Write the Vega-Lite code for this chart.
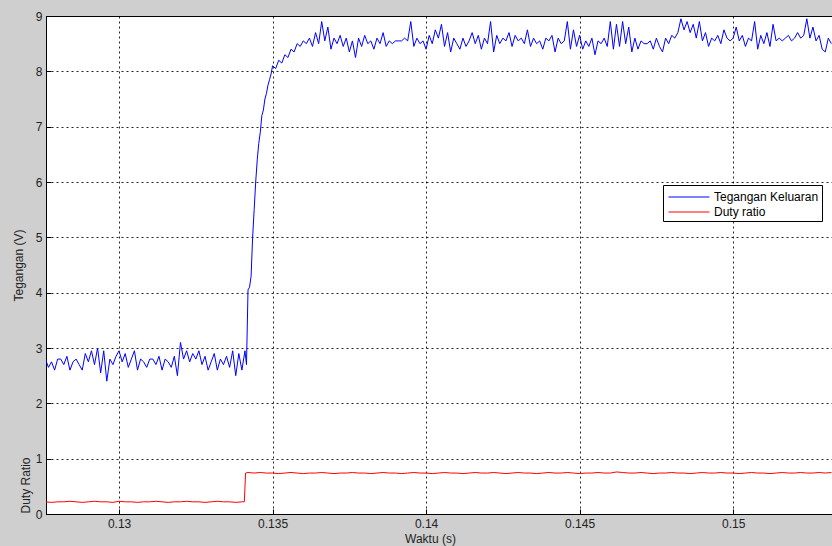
{
  "$schema": "https://vega.github.io/schema/vega-lite/v6.json",
  "width": 786,
  "height": 498,
  "autosize": {"type": "none"},
  "padding": {"left": 46, "top": 16, "right": 0, "bottom": 32},
  "background": "#cfcfcf",
  "config": {
    "view": {"fill": "white", "stroke": "#000", "strokeWidth": 1},
    "font": "Liberation Sans",
    "axis": {
      "grid": true,
      "gridColor": "#000",
      "gridDash": [2, 3],
      "gridOpacity": 0.85,
      "gridWidth": 1,
      "domainColor": "#000",
      "tickColor": "#000",
      "tickSize": -5,
      "labelPadding": 9,
      "labelFont": "Liberation Sans",
      "labelFontSize": 12,
      "labelColor": "#222",
      "titleFont": "Liberation Sans",
      "titleFontSize": 12,
      "titleFontWeight": "normal",
      "titleColor": "#222"
    }
  },
  "datasets": {
    "tegangan": [
      {"t": 0.1276, "v": 2.80}, {"t": 0.1277, "v": 2.65}, {"t": 0.1278, "v": 2.75}, {"t": 0.1279, "v": 2.60},
      {"t": 0.1280, "v": 2.80}, {"t": 0.1281, "v": 2.80}, {"t": 0.1282, "v": 2.70}, {"t": 0.1283, "v": 2.85},
      {"t": 0.1284, "v": 2.60}, {"t": 0.1285, "v": 2.75}, {"t": 0.1286, "v": 2.80}, {"t": 0.1287, "v": 2.70},
      {"t": 0.1288, "v": 2.60}, {"t": 0.1289, "v": 2.90}, {"t": 0.1290, "v": 2.75}, {"t": 0.1291, "v": 2.95},
      {"t": 0.1292, "v": 2.70}, {"t": 0.1293, "v": 3.00}, {"t": 0.1294, "v": 2.55}, {"t": 0.1295, "v": 2.95},
      {"t": 0.1296, "v": 2.40}, {"t": 0.1297, "v": 2.80}, {"t": 0.1298, "v": 2.70}, {"t": 0.1299, "v": 2.85},
      {"t": 0.1300, "v": 2.95}, {"t": 0.1301, "v": 2.75}, {"t": 0.1302, "v": 2.90}, {"t": 0.1303, "v": 2.65},
      {"t": 0.1304, "v": 2.80}, {"t": 0.1305, "v": 2.95}, {"t": 0.1306, "v": 2.60}, {"t": 0.1307, "v": 2.80},
      {"t": 0.1308, "v": 2.75}, {"t": 0.1309, "v": 2.65}, {"t": 0.1310, "v": 2.80}, {"t": 0.1311, "v": 2.80},
      {"t": 0.1312, "v": 2.70}, {"t": 0.1313, "v": 2.85}, {"t": 0.1314, "v": 2.60}, {"t": 0.1315, "v": 2.80},
      {"t": 0.1316, "v": 2.75}, {"t": 0.1317, "v": 2.65}, {"t": 0.1318, "v": 2.85}, {"t": 0.1319, "v": 2.50},
      {"t": 0.1320, "v": 3.10}, {"t": 0.1321, "v": 2.80}, {"t": 0.1322, "v": 2.95}, {"t": 0.1323, "v": 2.75},
      {"t": 0.1324, "v": 2.90}, {"t": 0.1325, "v": 2.80}, {"t": 0.1326, "v": 2.95}, {"t": 0.1327, "v": 2.70},
      {"t": 0.1328, "v": 2.85}, {"t": 0.1329, "v": 2.60}, {"t": 0.1330, "v": 2.75}, {"t": 0.1331, "v": 2.90},
      {"t": 0.1332, "v": 2.60}, {"t": 0.1333, "v": 2.80}, {"t": 0.1334, "v": 2.70}, {"t": 0.1335, "v": 2.85},
      {"t": 0.1336, "v": 2.65}, {"t": 0.1337, "v": 2.95}, {"t": 0.1338, "v": 2.50}, {"t": 0.1339, "v": 2.90},
      {"t": 0.1340, "v": 2.60}, {"t": 0.1341, "v": 2.95}, {"t": 0.13415, "v": 2.70},
      {"t": 0.1342, "v": 4.05}, {"t": 0.13425, "v": 4.10}, {"t": 0.1343, "v": 4.30}, {"t": 0.13435, "v": 5.00},
      {"t": 0.1344, "v": 5.50}, {"t": 0.13445, "v": 6.00}, {"t": 0.1345, "v": 6.40}, {"t": 0.13455, "v": 6.70},
      {"t": 0.1346, "v": 6.90}, {"t": 0.13465, "v": 7.20}, {"t": 0.1347, "v": 7.30}, {"t": 0.13475, "v": 7.50},
      {"t": 0.1348, "v": 7.60}, {"t": 0.13485, "v": 7.75}, {"t": 0.1349, "v": 7.85}, {"t": 0.13495, "v": 7.95},
      {"t": 0.1350, "v": 8.10}, {"t": 0.1351, "v": 8.05}, {"t": 0.1352, "v": 8.20}, {"t": 0.1353, "v": 8.15},
      {"t": 0.1354, "v": 8.30}, {"t": 0.1355, "v": 8.25}, {"t": 0.1356, "v": 8.40}, {"t": 0.1357, "v": 8.35},
      {"t": 0.1358, "v": 8.50}, {"t": 0.1359, "v": 8.45}, {"t": 0.1360, "v": 8.55}, {"t": 0.1361, "v": 8.50},
      {"t": 0.1362, "v": 8.60}, {"t": 0.1363, "v": 8.45}, {"t": 0.1364, "v": 8.70}, {"t": 0.1365, "v": 8.50},
      {"t": 0.1366, "v": 8.90}, {"t": 0.1367, "v": 8.55}, {"t": 0.1368, "v": 8.80}, {"t": 0.1369, "v": 8.40},
      {"t": 0.1370, "v": 8.60}, {"t": 0.1371, "v": 8.50}, {"t": 0.1372, "v": 8.65}, {"t": 0.1373, "v": 8.45},
      {"t": 0.1374, "v": 8.60}, {"t": 0.1375, "v": 8.35}, {"t": 0.1376, "v": 8.55}, {"t": 0.1377, "v": 8.25},
      {"t": 0.1378, "v": 8.60}, {"t": 0.1379, "v": 8.45}, {"t": 0.1380, "v": 8.65}, {"t": 0.1381, "v": 8.50},
      {"t": 0.1382, "v": 8.55}, {"t": 0.1383, "v": 8.40}, {"t": 0.1384, "v": 8.60}, {"t": 0.1385, "v": 8.50},
      {"t": 0.1386, "v": 8.70}, {"t": 0.1387, "v": 8.45}, {"t": 0.1388, "v": 8.55}, {"t": 0.1389, "v": 8.50},
      {"t": 0.1390, "v": 8.55}, {"t": 0.1391, "v": 8.55}, {"t": 0.1392, "v": 8.55}, {"t": 0.1393, "v": 8.60},
      {"t": 0.1394, "v": 8.55}, {"t": 0.1395, "v": 8.90}, {"t": 0.1396, "v": 8.45}, {"t": 0.1397, "v": 8.60},
      {"t": 0.1398, "v": 8.50}, {"t": 0.1399, "v": 8.55}, {"t": 0.1400, "v": 8.40}, {"t": 0.1401, "v": 8.65},
      {"t": 0.1402, "v": 8.50}, {"t": 0.1403, "v": 8.75}, {"t": 0.1404, "v": 8.60}, {"t": 0.1405, "v": 8.85},
      {"t": 0.1406, "v": 8.45}, {"t": 0.1407, "v": 8.70}, {"t": 0.1408, "v": 8.35}, {"t": 0.1409, "v": 8.60},
      {"t": 0.1410, "v": 8.50}, {"t": 0.1411, "v": 8.40}, {"t": 0.1412, "v": 8.60}, {"t": 0.1413, "v": 8.45},
      {"t": 0.1414, "v": 8.55}, {"t": 0.1415, "v": 8.70}, {"t": 0.1416, "v": 8.50}, {"t": 0.1417, "v": 8.65},
      {"t": 0.1418, "v": 8.40}, {"t": 0.1419, "v": 8.60}, {"t": 0.1420, "v": 8.50}, {"t": 0.1421, "v": 8.90},
      {"t": 0.1422, "v": 8.35}, {"t": 0.1423, "v": 8.65}, {"t": 0.1424, "v": 8.50}, {"t": 0.1425, "v": 8.60},
      {"t": 0.1426, "v": 8.55}, {"t": 0.1427, "v": 8.70}, {"t": 0.1428, "v": 8.45}, {"t": 0.1429, "v": 8.65},
      {"t": 0.1430, "v": 8.55}, {"t": 0.1431, "v": 8.60}, {"t": 0.1432, "v": 8.50}, {"t": 0.1433, "v": 8.75},
      {"t": 0.1434, "v": 8.45}, {"t": 0.1435, "v": 8.60}, {"t": 0.1436, "v": 8.50}, {"t": 0.1437, "v": 8.55},
      {"t": 0.1438, "v": 8.40}, {"t": 0.1439, "v": 8.60}, {"t": 0.1440, "v": 8.55}, {"t": 0.1441, "v": 8.65},
      {"t": 0.1442, "v": 8.35}, {"t": 0.1443, "v": 8.60}, {"t": 0.1444, "v": 8.50}, {"t": 0.1445, "v": 8.55},
      {"t": 0.1446, "v": 8.90}, {"t": 0.1447, "v": 8.40}, {"t": 0.1448, "v": 8.75}, {"t": 0.1449, "v": 8.45},
      {"t": 0.1450, "v": 8.65}, {"t": 0.1451, "v": 8.40}, {"t": 0.1452, "v": 8.55}, {"t": 0.1453, "v": 8.45},
      {"t": 0.1454, "v": 8.60}, {"t": 0.1455, "v": 8.30}, {"t": 0.1456, "v": 8.55}, {"t": 0.1457, "v": 8.50},
      {"t": 0.1458, "v": 8.60}, {"t": 0.1459, "v": 8.45}, {"t": 0.1460, "v": 8.90}, {"t": 0.1461, "v": 8.40},
      {"t": 0.1462, "v": 8.85}, {"t": 0.1463, "v": 8.45}, {"t": 0.1464, "v": 8.90}, {"t": 0.1465, "v": 8.50},
      {"t": 0.1466, "v": 8.80}, {"t": 0.1467, "v": 8.35}, {"t": 0.1468, "v": 8.60}, {"t": 0.1469, "v": 8.40},
      {"t": 0.1470, "v": 8.55}, {"t": 0.1471, "v": 8.50}, {"t": 0.1472, "v": 8.50}, {"t": 0.1473, "v": 8.55},
      {"t": 0.1474, "v": 8.40}, {"t": 0.1475, "v": 8.60}, {"t": 0.1476, "v": 8.45}, {"t": 0.1477, "v": 8.35},
      {"t": 0.1478, "v": 8.60}, {"t": 0.1479, "v": 8.50}, {"t": 0.1480, "v": 8.65}, {"t": 0.1481, "v": 8.60},
      {"t": 0.1482, "v": 8.70}, {"t": 0.1483, "v": 8.95}, {"t": 0.1484, "v": 8.75}, {"t": 0.1485, "v": 8.90},
      {"t": 0.1486, "v": 8.70}, {"t": 0.1487, "v": 8.85}, {"t": 0.1488, "v": 8.60}, {"t": 0.1489, "v": 8.90},
      {"t": 0.1490, "v": 8.55}, {"t": 0.1491, "v": 8.70}, {"t": 0.1492, "v": 8.45}, {"t": 0.1493, "v": 8.60},
      {"t": 0.1494, "v": 8.55}, {"t": 0.1495, "v": 8.65}, {"t": 0.1496, "v": 8.50}, {"t": 0.1497, "v": 8.75},
      {"t": 0.1498, "v": 8.60}, {"t": 0.1499, "v": 8.55}, {"t": 0.1500, "v": 8.60}, {"t": 0.1501, "v": 8.80},
      {"t": 0.1502, "v": 8.55}, {"t": 0.1503, "v": 8.65}, {"t": 0.1504, "v": 8.45}, {"t": 0.1505, "v": 8.60},
      {"t": 0.1506, "v": 8.55}, {"t": 0.1507, "v": 8.90}, {"t": 0.1508, "v": 8.40}, {"t": 0.1509, "v": 8.65},
      {"t": 0.1510, "v": 8.50}, {"t": 0.1511, "v": 8.70}, {"t": 0.1512, "v": 8.45}, {"t": 0.1513, "v": 8.85},
      {"t": 0.1514, "v": 8.55}, {"t": 0.1515, "v": 8.60}, {"t": 0.1516, "v": 8.55}, {"t": 0.1517, "v": 8.60},
      {"t": 0.1518, "v": 8.65}, {"t": 0.1519, "v": 8.55}, {"t": 0.1520, "v": 8.60}, {"t": 0.1521, "v": 8.70},
      {"t": 0.1522, "v": 8.60}, {"t": 0.1523, "v": 8.65}, {"t": 0.1524, "v": 8.95}, {"t": 0.1525, "v": 8.60},
      {"t": 0.1526, "v": 8.80}, {"t": 0.1527, "v": 8.55}, {"t": 0.1528, "v": 8.65}, {"t": 0.1529, "v": 8.40},
      {"t": 0.1530, "v": 8.35}, {"t": 0.1531, "v": 8.60}, {"t": 0.1532, "v": 8.50}
    ],
    "duty": [
      {"t": 0.1276, "v": 0.22}, {"t": 0.1278, "v": 0.21}, {"t": 0.1280, "v": 0.22}, {"t": 0.1282, "v": 0.22},
      {"t": 0.1284, "v": 0.23}, {"t": 0.1286, "v": 0.22}, {"t": 0.1288, "v": 0.21}, {"t": 0.1290, "v": 0.22},
      {"t": 0.1292, "v": 0.23}, {"t": 0.1294, "v": 0.22}, {"t": 0.1296, "v": 0.22}, {"t": 0.1298, "v": 0.21},
      {"t": 0.1300, "v": 0.23}, {"t": 0.1302, "v": 0.22}, {"t": 0.1304, "v": 0.22}, {"t": 0.1306, "v": 0.21},
      {"t": 0.1308, "v": 0.22}, {"t": 0.1310, "v": 0.22}, {"t": 0.1312, "v": 0.23}, {"t": 0.1314, "v": 0.22},
      {"t": 0.1316, "v": 0.21}, {"t": 0.1318, "v": 0.22}, {"t": 0.1320, "v": 0.22}, {"t": 0.1322, "v": 0.23},
      {"t": 0.1324, "v": 0.22}, {"t": 0.1326, "v": 0.22}, {"t": 0.1328, "v": 0.21}, {"t": 0.1330, "v": 0.22},
      {"t": 0.1332, "v": 0.23}, {"t": 0.1334, "v": 0.22}, {"t": 0.1336, "v": 0.22}, {"t": 0.1338, "v": 0.21},
      {"t": 0.1340, "v": 0.22}, {"t": 0.13408, "v": 0.22}, {"t": 0.13412, "v": 0.74}, {"t": 0.1342, "v": 0.75},
      {"t": 0.1344, "v": 0.74}, {"t": 0.1346, "v": 0.75}, {"t": 0.1348, "v": 0.74}, {"t": 0.1350, "v": 0.74},
      {"t": 0.1352, "v": 0.73}, {"t": 0.1354, "v": 0.74}, {"t": 0.1356, "v": 0.75}, {"t": 0.1358, "v": 0.74},
      {"t": 0.1360, "v": 0.73}, {"t": 0.1362, "v": 0.74}, {"t": 0.1364, "v": 0.74}, {"t": 0.1366, "v": 0.75},
      {"t": 0.1368, "v": 0.74}, {"t": 0.1370, "v": 0.73}, {"t": 0.1372, "v": 0.74}, {"t": 0.1374, "v": 0.74},
      {"t": 0.1376, "v": 0.75}, {"t": 0.1378, "v": 0.74}, {"t": 0.1380, "v": 0.74}, {"t": 0.1382, "v": 0.73},
      {"t": 0.1384, "v": 0.74}, {"t": 0.1386, "v": 0.75}, {"t": 0.1388, "v": 0.74}, {"t": 0.1390, "v": 0.74},
      {"t": 0.1392, "v": 0.73}, {"t": 0.1394, "v": 0.74}, {"t": 0.1396, "v": 0.75}, {"t": 0.1398, "v": 0.74},
      {"t": 0.1400, "v": 0.74}, {"t": 0.1402, "v": 0.73}, {"t": 0.1404, "v": 0.74}, {"t": 0.1406, "v": 0.75},
      {"t": 0.1408, "v": 0.74}, {"t": 0.1410, "v": 0.74}, {"t": 0.1412, "v": 0.73}, {"t": 0.1414, "v": 0.74},
      {"t": 0.1416, "v": 0.75}, {"t": 0.1418, "v": 0.74}, {"t": 0.1420, "v": 0.74}, {"t": 0.1422, "v": 0.75},
      {"t": 0.1424, "v": 0.74}, {"t": 0.1426, "v": 0.73}, {"t": 0.1428, "v": 0.74}, {"t": 0.1430, "v": 0.75},
      {"t": 0.1432, "v": 0.74}, {"t": 0.1434, "v": 0.74}, {"t": 0.1436, "v": 0.73}, {"t": 0.1438, "v": 0.74},
      {"t": 0.1440, "v": 0.75}, {"t": 0.1442, "v": 0.74}, {"t": 0.1444, "v": 0.74}, {"t": 0.1446, "v": 0.75},
      {"t": 0.1448, "v": 0.74}, {"t": 0.1450, "v": 0.73}, {"t": 0.1452, "v": 0.74}, {"t": 0.1454, "v": 0.74},
      {"t": 0.1456, "v": 0.75}, {"t": 0.1458, "v": 0.74}, {"t": 0.1460, "v": 0.74}, {"t": 0.1462, "v": 0.76},
      {"t": 0.1464, "v": 0.75}, {"t": 0.1466, "v": 0.74}, {"t": 0.1468, "v": 0.74}, {"t": 0.1470, "v": 0.75},
      {"t": 0.1472, "v": 0.74}, {"t": 0.1474, "v": 0.73}, {"t": 0.1476, "v": 0.74}, {"t": 0.1478, "v": 0.74},
      {"t": 0.1480, "v": 0.75}, {"t": 0.1482, "v": 0.74}, {"t": 0.1484, "v": 0.74}, {"t": 0.1486, "v": 0.73},
      {"t": 0.1488, "v": 0.74}, {"t": 0.1490, "v": 0.75}, {"t": 0.1492, "v": 0.74}, {"t": 0.1494, "v": 0.74},
      {"t": 0.1496, "v": 0.75}, {"t": 0.1498, "v": 0.74}, {"t": 0.1500, "v": 0.74}, {"t": 0.1502, "v": 0.73},
      {"t": 0.1504, "v": 0.74}, {"t": 0.1506, "v": 0.75}, {"t": 0.1508, "v": 0.74}, {"t": 0.1510, "v": 0.74},
      {"t": 0.1512, "v": 0.73}, {"t": 0.1514, "v": 0.74}, {"t": 0.1516, "v": 0.75}, {"t": 0.1518, "v": 0.74},
      {"t": 0.1520, "v": 0.74}, {"t": 0.1522, "v": 0.75}, {"t": 0.1524, "v": 0.74}, {"t": 0.1526, "v": 0.74},
      {"t": 0.1528, "v": 0.75}, {"t": 0.1530, "v": 0.74}, {"t": 0.1532, "v": 0.75}
    ]
  },
  "layer": [
    {
      "data": {"name": "tegangan"},
      "mark": {"type": "line", "strokeWidth": 1, "clip": true},
      "encoding": {
        "x": {
          "field": "t",
          "type": "quantitative",
          "scale": {"domain": [0.12762, 0.15322], "nice": false, "zero": false},
          "axis": {
            "values": [0.13, 0.135, 0.14, 0.145, 0.15],
            "format": ".3~f",
            "title": "Waktu (s)",
            "titleX": 384,
            "titleY": 24,
            "titleBaseline": "middle"
          }
        },
        "y": {
          "field": "v",
          "type": "quantitative",
          "scale": {"domain": [0, 9], "nice": false},
          "axis": {
            "values": [0, 1, 2, 3, 4, 5, 6, 7, 8, 9],
            "title": "Tegangan (V)",
            "titleX": -28,
            "titleY": 249,
            "titleAngle": -90,
            "titleAlign": "center",
            "titleBaseline": "middle"
          }
        },
        "color": {
          "datum": "Tegangan Keluaran",
          "scale": {"domain": ["Tegangan Keluaran", "Duty ratio"], "range": ["#0000ff", "#ff0000"]},
          "legend": {
            "orient": "none",
            "legendX": 617,
            "legendY": 169,
            "title": null,
            "symbolType": "M-2.41,0H2.41",
            "symbolSize": 289,
            "symbolStrokeWidth": 1,
            "symbolFillColor": "transparent",
            "symbolOffset": 14,
            "labelFont": "Liberation Sans",
            "labelFontSize": 12,
            "labelColor": "#000",
            "labelOffset": 16,
            "strokeColor": "#000",
            "fillColor": "#fff",
            "padding": 3,
            "rowPadding": 0
          }
        }
      }
    },
    {
      "data": {"name": "duty"},
      "mark": {"type": "line", "strokeWidth": 1, "clip": true},
      "encoding": {
        "x": {"field": "t", "type": "quantitative"},
        "y": {
          "field": "v",
          "type": "quantitative",
          "axis": {
            "orient": "left",
            "grid": false,
            "labels": false,
            "ticks": false,
            "domain": false,
            "title": "Duty Ratio",
            "titleX": -21,
            "titleY": 469,
            "titleAngle": -90,
            "titleAlign": "center",
            "titleBaseline": "middle"
          }
        },
        "color": {"datum": "Duty ratio"}
      }
    }
  ],
  "resolve": {"axis": {"y": "independent"}}
}
